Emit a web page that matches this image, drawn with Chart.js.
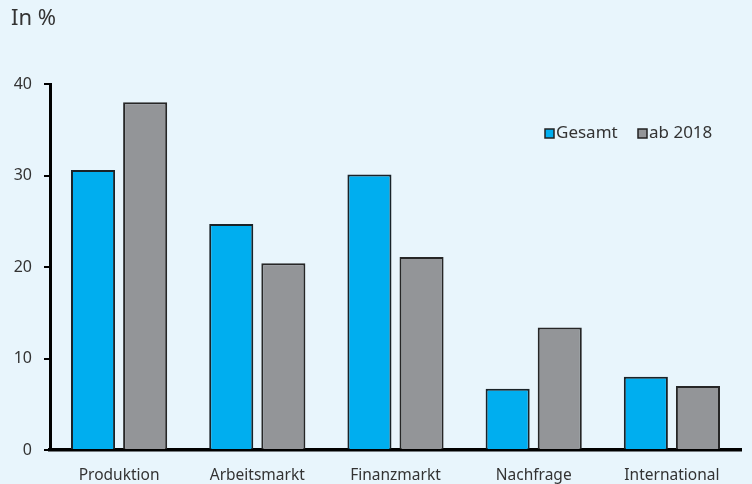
<!DOCTYPE html>
<html>
<head>
<meta charset="utf-8">
<script src="https://cdn.jsdelivr.net/npm/chart.js@4.4.1/dist/chart.umd.min.js"></script>
<style>
  html, body { margin: 0; padding: 0; background: #e8f5fc; }
  #wrap { width: 752px; height: 484px; }
</style>
</head>
<body>
<div id="wrap"><canvas id="chart" width="752" height="484"></canvas></div>
<script>
const categories = ['Produktion', 'Arbeitsmarkt', 'Finanzmarkt', 'Nachfrage', 'International'];
const gesamt = [30.6, 24.7, 30.1, 6.7, 8.0];
const ab2018 = [38.0, 20.4, 21.1, 13.4, 7.0];

const textColor = '#333333';
const fontFamily = '"Noto Sans", sans-serif';

// "In %" label and legend box drawn in the plot
const extras = {
    id: 'extras',
    afterDraw(chart) {
        const ctx = chart.ctx;
        ctx.save();
        ctx.fillStyle = textColor;
        ctx.font = '22px ' + fontFamily;
        ctx.textBaseline = 'middle';
        ctx.textAlign = 'left';
        ctx.fillText('In %', 11, 19);

        ctx.font = '17px ' + fontFamily;
        const items = [{ x: 545, ds: chart.data.datasets[0] }, { x: 638, ds: chart.data.datasets[1] }];
        items.forEach(it => {
            ctx.fillStyle = it.ds.backgroundColor;
            ctx.fillRect(it.x, 129, 9, 9);
            ctx.strokeStyle = '#222';
            ctx.lineWidth = 1.5;
            ctx.strokeRect(it.x, 129, 9, 9);
            ctx.fillStyle = textColor;
            ctx.fillText(it.ds.label, it.x + 11, 133);
        });
        ctx.restore();
    }
};

const ctx = document.getElementById('chart').getContext('2d');
const chart = new Chart(ctx, {
    type: 'bar',
    data: {
        labels: categories,
        datasets: [{
            label: 'Gesamt',
            data: gesamt,
            backgroundColor: '#00aeef',
            borderColor: '#1a2328',
            borderWidth: 2,
            categoryPercentage: 0.754,
            barPercentage: 0.846
        }, {
            label: 'ab 2018',
            data: ab2018,
            backgroundColor: '#939598',
            borderColor: '#262626',
            borderWidth: 2,
            categoryPercentage: 0.754,
            barPercentage: 0.846
        }]
    },
    options: {
        responsive: false,
        animation: false,
        layout: { padding: { top: 84, right: 11, left: 0, bottom: 0 } },
        plugins: {
            legend: { display: false },
            tooltip: { enabled: false }
        },
        scales: {
            x: {
                grid: { display: false, drawTicks: false },
                border: { color: '#000', width: 3.5 },
                ticks: { color: textColor, font: { family: fontFamily, size: 15.5 }, padding: 16 },
                afterFit(scale) { scale.height = 34; }
            },
            y: {
                min: 0,
                max: 40,
                ticks: { stepSize: 10, color: textColor, font: { family: fontFamily, size: 16 }, padding: 12 },
                grid: { drawOnChartArea: false, tickLength: 6, color: '#000', lineWidth: 2 },
                border: { color: '#000', width: 3 },
                afterFit(scale) { scale.width = 50; }
            }
        }
    },
    plugins: [extras]
});
</script>
</body>
</html>
